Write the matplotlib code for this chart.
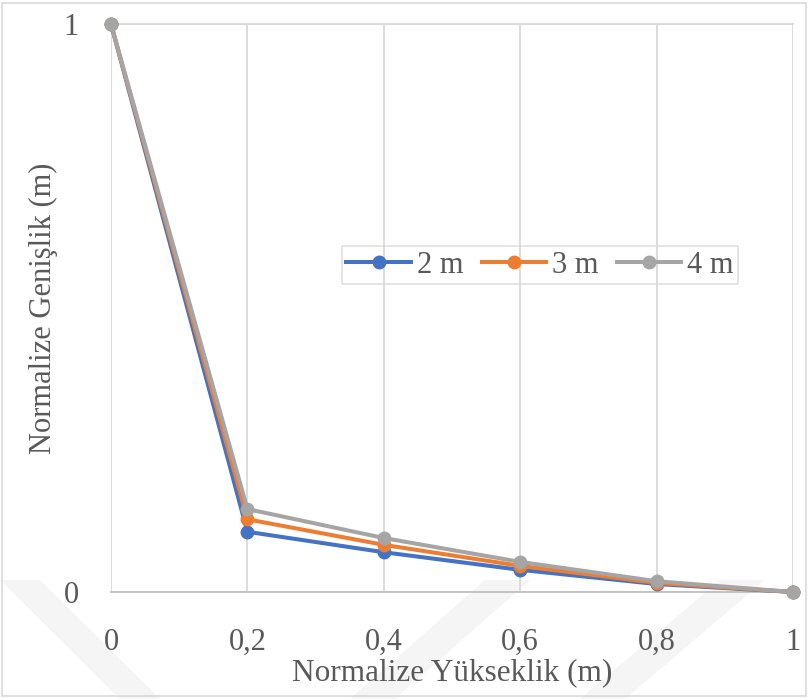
import matplotlib.pyplot as plt
from matplotlib.patches import Polygon, Rectangle

# Data
x_vals = [0, 0.2, 0.4, 0.6, 0.8, 1.0]
series_names = ["2 m", "3 m", "4 m"]
y_2m = [1.0, 0.106, 0.070, 0.039, 0.014, 0.0]
y_3m = [1.0, 0.128, 0.083, 0.046, 0.016, 0.0]
y_4m = [1.0, 0.146, 0.095, 0.053, 0.019, 0.0]
x_ticks = [0, 0.2, 0.4, 0.6, 0.8, 1.0]
x_tick_labels = ["0", "0,2", "0,4", "0,6", "0,8", "1"]
y_ticks = [0, 1]
y_tick_labels = ["0", "1"]

colors = ["#4472C4", "#ED7D31", "#A5A5A5"]
text_color = "#595959"

plt.rcParams['font.family'] = ['Liberation Serif', 'DejaVu Serif']

fig = plt.figure(figsize=(8.09, 6.99), dpi=100)
W, H = 809, 699

# faint background stripes
for pts in [
    [(0, 580), (40, 580), (160, 699), (120, 699)],
    [(350, 699), (395, 699), (530, 580), (485, 580)],
    [(580, 699), (625, 699), (765, 580), (720, 580)],
]:
    fig.patches.append(Polygon([(px / W, 1 - py / H) for px, py in pts],
                               closed=True, transform=fig.transFigure,
                               facecolor="#F5F5F5", edgecolor="none", zorder=-5))

# chart border
fig.patches.append(Rectangle((2 / W, 1 - 696 / H), 804 / W, 693 / H,
                             transform=fig.transFigure, fill=False,
                             edgecolor="#D9D9D9", linewidth=1.2, zorder=-4))

ax = fig.add_axes([111 / W, 1 - 592 / H, (793 - 111) / W, (592 - 24) / H])
ax.patch.set_alpha(0)

for ys, name, c in zip([y_2m, y_3m, y_4m], series_names, colors):
    ax.plot(x_vals, ys, color=c, linewidth=2.9, marker="o", markersize=9,
            label=name, zorder=3, clip_on=False)

ax.set_xlim(0, 1)
ax.set_ylim(0, 1)
ax.set_xticks(x_ticks)
ax.set_xticklabels(x_tick_labels)
ax.set_yticks(y_ticks)
ax.set_yticklabels(y_tick_labels)
ax.tick_params(axis="both", length=0, labelsize=22, colors=text_color)
ax.tick_params(axis="x", pad=26)
ax.tick_params(axis="y", pad=23)

ax.grid(True, color="#D9D9D9", linewidth=1.3)
ax.set_axisbelow(True)
for s in ["left", "right"]:
    ax.spines[s].set_visible(False)
ax.spines["top"].set_color("#D9D9D9")
ax.spines["top"].set_linewidth(1.3)
ax.spines["bottom"].set_color("#BFBFBF")
ax.spines["bottom"].set_linewidth(1.3)

ax.set_xlabel("Normalize Yükseklik (m)", fontsize=22.5, color=text_color)
ax.set_ylabel("Normalize Genişlik (m)", fontsize=22, color=text_color)
ax.xaxis.set_label_coords(0.5, (592 - 658) / 568)
ax.yaxis.set_label_coords((58 - 111) / 682, 0.5)

leg = ax.legend(loc="center", bbox_to_anchor=((540 - 111) / (793 - 111), (592 - 265) / 568),
                ncol=3, frameon=True, fontsize=22, handlelength=2.1,
                columnspacing=0.6, handletextpad=0.2, borderpad=0.15,
                fancybox=False, labelcolor=text_color)
leg.get_frame().set_edgecolor("#D9D9D9")
leg.get_frame().set_facecolor("none")
leg.get_frame().set_linewidth(1.2)

fig.savefig("out.png", dpi=100)
